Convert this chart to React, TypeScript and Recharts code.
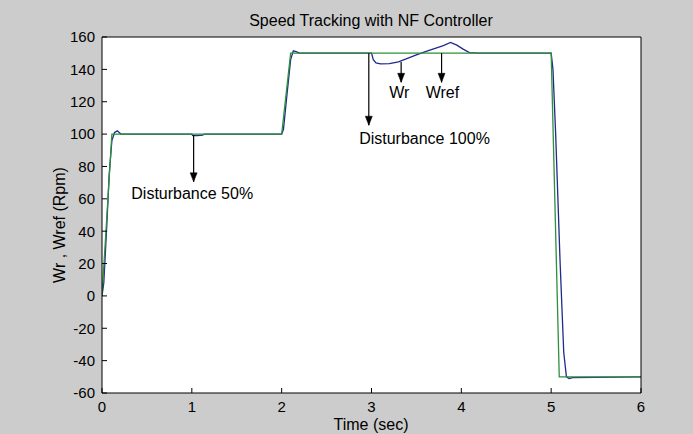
import React from 'react';
import {
  LineChart, Line, XAxis, YAxis, CartesianGrid, ReferenceLine, ReferenceDot, Customized,
} from 'recharts';

// ---- data ----
const wrefTime = [0, 0.11, 2.0, 2.1, 5.0, 5.09, 6];
const wrefValue = [0, 100, 100, 150, 150, -50, -50];

const wrTime = [0, 0.02, 0.05, 0.08, 0.11, 0.14, 0.17, 0.21, 1.0, 1.01, 1.06, 1.12, 1.14, 2.0, 2.02, 2.06, 2.1, 2.13, 2.16, 2.2,
  3.0, 3.02, 3.05, 3.1, 3.2, 3.3, 3.4, 3.5, 3.6, 3.7, 3.8, 3.88, 3.95, 4.02, 4.09, 4.18,
  5.0, 5.02, 5.05, 5.1, 5.14, 5.17, 5.2, 5.24, 6];
const wrValue = [0, 8, 40, 75, 96, 101, 102, 100, 100, 99, 99, 99.3, 100, 100, 103, 125, 146, 151.5, 151, 150,
  150, 146, 144, 143.4, 143.5, 144.6, 146.8, 149, 151, 152.8, 154.7, 156.6, 155, 152.5, 150.4, 150,
  150, 140, 100, 20, -35, -50, -51, -50.5, -50];

const xTicks = [0, 1, 2, 3, 4, 5, 6];
const yTicks = [-60, -40, -20, 0, 20, 40, 60, 80, 100, 120, 140, 160];

// arrows: [time, from value, to value]
const arrowTime = [1.02, 2.97, 3.33, 3.78];
const arrowFrom = [99.4, 150, 144.6, 150];
const arrowTo = [70.5, 105.5, 132, 132];

// annotation labels: text, time, value
const noteText = ['Disturbance 50%', 'Disturbance 100%', 'Wr', 'Wref'];
const noteTime = [1.004, 3.59, 3.31, 3.79];
const noteValue = [63.6, 97.5, 126, 126];

const title = 'Speed Tracking with NF Controller';
const xLabel = 'Time (sec)';
const yLabel = 'Wr , Wref (Rpm)';

const wrefData = wrefTime.map((t, i) => ({ t, v: wrefValue[i] }));
const wrData = wrTime.map((t, i) => ({ t, v: wrValue[i] }));

const FONT = '"Liberation Sans", Arial, sans-serif';
const W = 693;
const H = 434;

const ArrowHead = (props: any) => {
  const { cx, cy } = props;
  if (cx == null || cy == null) return null;
  return <path d={`M${cx - 3.5},${cy - 9} L${cx + 3.5},${cy - 9} L${cx},${cy} Z`} fill="#000" stroke="#000" strokeWidth={0.5} />;
};

const makeNote = (text: string) => (props: any) => {
  const { cx, cy } = props;
  if (cx == null || cy == null) return null;
  return (
    <text x={cx} y={cy + 6} textAnchor="middle" fontFamily={FONT} fontSize={16} fill="#000">{text}</text>
  );
};

const Titles = () => (
  <g>
    <text x={371} y={26} textAnchor="middle" fontFamily={FONT} fontSize={16} fill="#000">{title}</text>
    <text x={371} y={430} textAnchor="middle" fontFamily={FONT} fontSize={16} fill="#000">{xLabel}</text>
    <text x={0} y={0} transform="translate(65,225) rotate(-90)" textAnchor="middle" fontFamily={FONT} fontSize={16} fill="#000">{yLabel}</text>
  </g>
);

export default function App() {
  return (
    <div style={{ position: 'absolute', left: 0, top: 0, width: W, height: H, background: '#cccccc' }}>
      <LineChart width={W} height={H} margin={{ top: 0, right: 0, bottom: 0, left: 0 }}>
        <CartesianGrid horizontal={false} vertical={false} fill="#ffffff" />
        <XAxis
          dataKey="t" type="number" domain={[0, 6]} ticks={xTicks} allowDataOverflow
          height={41} tickSize={-5} tickMargin={13}
          stroke="#000" tick={{ fill: '#000', fontSize: 15, fontFamily: FONT }}
        />
        <XAxis
          xAxisId="top" orientation="top" dataKey="t" type="number" domain={[0, 6]} ticks={xTicks}
          height={37} tickSize={-5} tick={false} stroke="#000"
        />
        <YAxis
          type="number" domain={[-60, 160]} ticks={yTicks} allowDataOverflow
          width={102} tickSize={-5} tickMargin={12}
          stroke="#000" tick={{ fill: '#000', fontSize: 15, fontFamily: FONT }}
        />
        <YAxis
          yAxisId="r" orientation="right" type="number" domain={[-60, 160]} ticks={yTicks}
          width={52} tickSize={-5} tick={false} stroke="#000"
        />
        <Line data={wrData} dataKey="v" stroke="#1e2a8c" strokeWidth={1.3} dot={false} isAnimationActive={false} />
        <Line data={wrefData} dataKey="v" stroke="#2f8f3a" strokeWidth={1.3} dot={false} isAnimationActive={false} />
        {arrowTime.map((t, i) => (
          <ReferenceLine key={'s' + i} segment={[{ x: t, y: arrowFrom[i] }, { x: t, y: arrowTo[i] }]} stroke="#000" strokeWidth={1.2} />
        ))}
        {arrowTime.map((t, i) => (
          <ReferenceDot key={'h' + i} x={t} y={arrowTo[i]} r={0} shape={ArrowHead} />
        ))}
        {noteText.map((s, i) => (
          <ReferenceDot key={'n' + i} x={noteTime[i]} y={noteValue[i]} r={0} shape={makeNote(s)} />
        ))}
        <Customized component={Titles} />
      </LineChart>
    </div>
  );
}
